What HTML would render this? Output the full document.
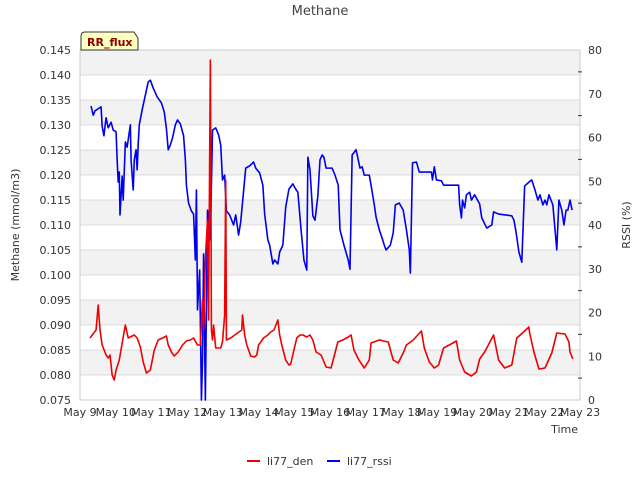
<!DOCTYPE html>
<html><head><meta charset="utf-8"><style>
body{margin:0;background:#fff;}
svg{font-family:"DejaVu Sans","Liberation Sans",sans-serif;}
</style></head><body>
<svg id="c" width="640" height="480"></svg>
<script>
const dayLabels=["May 9","May 10","May 11","May 12","May 13","May 14","May 15","May 16","May 17","May 18","May 19","May 20","May 21","May 22","May 23"];
const leftTicks=[0.075,0.080,0.085,0.090,0.095,0.100,0.105,0.110,0.115,0.120,0.125,0.130,0.135,0.140,0.145];
const rightTicks=[0,10,20,30,40,50,60,70,80];
const denDays=[0.28,0.45,0.51,0.56,0.62,0.73,0.79,0.84,0.90,0.96,1.01,1.10,1.21,1.27,1.35,1.52,1.60,1.69,1.77,1.86,1.97,2.08,2.19,2.31,2.42,2.47,2.56,2.64,2.75,2.87,2.98,3.09,3.18,3.29,3.37,3.43,3.46,3.51,3.57,3.60,3.63,3.65,3.68,3.71,3.74,3.80,3.94,3.99,4.05,4.08,4.10,4.22,4.41,4.53,4.55,4.61,4.67,4.78,4.89,4.95,5.00,5.14,5.26,5.34,5.43,5.54,5.59,5.65,5.76,5.85,5.90,5.99,6.07,6.16,6.24,6.35,6.44,6.52,6.61,6.75,6.89,7.03,7.11,7.22,7.36,7.51,7.59,7.67,7.81,7.96,8.10,8.15,8.38,8.63,8.77,8.91,9.05,9.14,9.33,9.56,9.64,9.78,9.92,10.04,10.18,10.34,10.54,10.63,10.77,10.96,11.10,11.19,11.33,11.58,11.72,11.89,12.09,12.23,12.42,12.57,12.59,12.71,12.85,13.02,13.21,13.35,13.58,13.69,13.72,13.80];
const denVals=[0.0874,0.0890,0.0940,0.0890,0.0860,0.0840,0.0834,0.0840,0.0800,0.0790,0.0810,0.0830,0.0876,0.0900,0.0874,0.0880,0.0874,0.0856,0.0826,0.0804,0.0810,0.0850,0.0870,0.0874,0.0878,0.0860,0.0846,0.0838,0.0846,0.0860,0.0868,0.0870,0.0874,0.0860,0.0860,0.0950,0.0890,0.1030,0.1110,0.0910,0.1230,0.1430,0.0890,0.0870,0.0900,0.0854,0.0854,0.0866,0.0920,0.1190,0.0870,0.0874,0.0884,0.0890,0.0920,0.0880,0.0860,0.0838,0.0836,0.0840,0.0860,0.0874,0.0880,0.0886,0.0890,0.0910,0.0880,0.0860,0.0830,0.0820,0.0822,0.0850,0.0874,0.0880,0.0880,0.0876,0.0880,0.0870,0.0846,0.0840,0.0816,0.0814,0.0836,0.0866,0.0870,0.0876,0.0880,0.0850,0.0830,0.0814,0.0830,0.0864,0.0870,0.0866,0.0830,0.0824,0.0844,0.0860,0.0870,0.0888,0.0854,0.0826,0.0814,0.0820,0.0854,0.0860,0.0868,0.0830,0.0806,0.0798,0.0806,0.0832,0.0846,0.0880,0.0830,0.0814,0.0820,0.0874,0.0886,0.0896,0.0884,0.0846,0.0812,0.0814,0.0844,0.0884,0.0882,0.0866,0.0846,0.0832];
const rssiDays=[0.31,0.37,0.42,0.59,0.62,0.67,0.73,0.79,0.87,0.93,1.01,1.04,1.07,1.10,1.12,1.18,1.21,1.27,1.32,1.41,1.43,1.49,1.52,1.57,1.60,1.63,1.66,1.74,1.91,1.97,2.05,2.16,2.28,2.36,2.42,2.47,2.53,2.59,2.67,2.73,2.81,2.90,2.95,2.98,3.04,3.12,3.18,3.23,3.26,3.29,3.35,3.40,3.43,3.46,3.51,3.57,3.65,3.71,3.80,3.88,3.94,3.99,4.05,4.10,4.19,4.30,4.36,4.44,4.50,4.64,4.75,4.86,4.92,5.03,5.12,5.17,5.26,5.31,5.40,5.45,5.54,5.59,5.68,5.76,5.85,5.96,6.04,6.10,6.19,6.27,6.35,6.38,6.44,6.52,6.58,6.66,6.72,6.78,6.83,6.89,7.06,7.14,7.23,7.28,7.39,7.51,7.56,7.62,7.73,7.79,7.84,7.90,7.96,8.10,8.15,8.24,8.29,8.38,8.46,8.52,8.57,8.69,8.77,8.83,8.94,9.05,9.14,9.22,9.25,9.31,9.42,9.50,9.84,9.87,9.92,9.98,10.12,10.18,10.60,10.63,10.68,10.71,10.77,10.82,10.91,10.96,11.05,11.19,11.25,11.39,11.53,11.58,11.72,12.09,12.15,12.20,12.29,12.37,12.45,12.57,12.65,12.74,12.82,12.88,12.96,13.02,13.07,13.13,13.24,13.35,13.41,13.49,13.55,13.61,13.66,13.72,13.78];
const rssiVals=[67.2,65.1,66.1,67.0,62.6,60.4,64.5,62.2,63.5,61.7,61.3,54.9,49.8,52.1,42.3,51.2,45.7,59.0,57.8,62.9,54.9,48.0,54.9,57.2,52.6,58.5,62.9,66.3,72.7,73.1,71.3,69.3,67.9,65.8,62.0,57.2,58.3,59.9,62.9,64.0,63.1,60.4,54.9,49.1,45.0,43.2,42.5,32.0,48.0,20.6,29.7,0,9.1,33.4,0,43.4,36.6,61.7,62.2,60.6,58.3,50.3,51.4,43.2,42.3,40.0,42.3,37.7,40.7,53.0,53.5,54.4,53.0,51.9,49.1,42.5,36.6,35.4,31.1,32.0,31.1,33.8,35.4,44.1,48.2,49.4,48.2,47.5,38.9,32.0,29.7,55.5,52.6,42.1,41.1,46.6,54.9,56.0,55.5,53.0,53.0,51.4,49.1,38.9,35.4,32.0,29.9,56.0,57.2,54.9,53.0,53.3,51.4,51.4,49.1,44.6,41.8,38.9,37.0,35.4,34.3,35.4,38.2,44.6,45.0,43.4,38.9,34.3,29.0,54.2,54.4,52.1,52.1,50.3,53.3,50.3,50.1,49.1,49.1,44.6,41.6,45.7,43.9,46.9,47.5,45.7,46.9,44.8,41.6,39.3,40.0,43.0,42.5,42.1,41.1,38.9,33.8,31.5,48.9,49.8,50.3,48.0,45.7,46.9,44.6,45.7,44.6,46.9,44.6,34.3,45.7,43.4,40.0,43.4,43.4,45.7,43.4];

const NS="http://www.w3.org/2000/svg";
const svg=document.getElementById('c');
const L=80,R=580,T=50,B=400;
const x=d=>L+(d/14)*(R-L);
const yl=v=>B-(v-0.075)/(0.145-0.075)*(B-T);
const yr=v=>B-v/80*(B-T);
function mk(tag,a,txt){const e=document.createElementNS(NS,tag);for(const k in a)e.setAttribute(k,a[k]);if(txt!==undefined)e.textContent=txt;svg.appendChild(e);return e;}

for(let i=0;i<leftTicks.length-1;i++){
  if((leftTicks.length-2-i)%2===0){
    const b=mk('rect',{x:L,y:yl(leftTicks[i+1]),width:R-L,height:yl(leftTicks[i])-yl(leftTicks[i+1]),fill:'#f2f2f2'});
    
    
  }
}
leftTicks.forEach(v=>{
  const g=mk('line',{x1:L,x2:R,y1:yl(v),y2:yl(v),stroke:'#dcdcdc','stroke-width':1});
  
  
  const t=mk('text',{x:L-9,y:yl(v)+4,'text-anchor':'end','font-size':11,fill:'#333'},v.toFixed(3));
  
  
});
const fr=mk('rect',{x:L,y:T,width:R-L,height:B-T,fill:'none',stroke:'#cccccc'});


rightTicks.forEach(v=>{
  const t=mk('text',{x:R+8,y:yr(v)+4,'font-size':11,fill:'#333'},String(v));
  
  
  if(v<80){const m=mk('line',{x1:R-2,x2:R+2,y1:yr(v+5),y2:yr(v+5),stroke:'#333'});
  
  }
});
dayLabels.forEach((s,i)=>{
  const t=mk('text',{x:x(i),y:416,'text-anchor':'middle','font-size':11,fill:'#333'},s);
  
  
});
function line(ds,vs,sc,col,name){
  const p=mk('polyline',{points:ds.map((d,i)=>x(d)+','+sc(vs[i])).join(' '),fill:'none',stroke:col,'stroke-width':1.6,'stroke-linejoin':'round'});
  
  
}
line(rssiDays,rssiVals,yr,'#0000ee','li77-rssi-line');
line(denDays,denVals,yl,'#ee0000','li77-den-line');
</script>
<svg width="640" height="480" style="position:absolute;left:0;top:0">
<text x="320" y="15" text-anchor="middle" font-size="13" fill="#444" font-family="DejaVu Sans,Liberation Sans,sans-serif">Methane</text>
<text transform="translate(19,225) rotate(-90)" text-anchor="middle" font-size="11" fill="#333" font-family="DejaVu Sans,Liberation Sans,sans-serif">Methane (mmol/m3)</text>
<text transform="translate(630,225) rotate(-90)" text-anchor="middle" font-size="11" fill="#333" font-family="DejaVu Sans,Liberation Sans,sans-serif">RSSI (%)</text>
<text x="578" y="433" text-anchor="end" font-size="11" fill="#333" font-family="DejaVu Sans,Liberation Sans,sans-serif">Time</text>
<g>
<path d="M81,50 L81,36 Q81,32 85,32 L134,32 L138,38 L138,50 Z" fill="#ffffc0" stroke="#333"/>
<text x="87" y="46" font-size="11" font-weight="bold" fill="#8b0000" font-family="DejaVu Sans,Liberation Sans,sans-serif">RR_flux</text>
</g>
<g>
<line x1="247" x2="260" y1="461" y2="461" stroke="#ee0000" stroke-width="2"/>
<text x="267" y="465" font-size="11" fill="#333" font-family="DejaVu Sans,Liberation Sans,sans-serif">li77_den</text>
<line x1="327" x2="340" y1="461" y2="461" stroke="#0000ee" stroke-width="2"/>
<text x="347" y="465" font-size="11" fill="#333" font-family="DejaVu Sans,Liberation Sans,sans-serif">li77_rssi</text>
</g>
</svg>
</body></html>
